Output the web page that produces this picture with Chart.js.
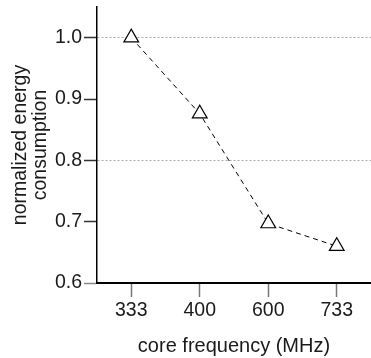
<!DOCTYPE html>
<html lang="en">
<head>
    <meta charset="UTF-8">
    <title>Energy vs core frequency</title>
    <script src="https://cdn.jsdelivr.net/npm/chart.js"></script>
    <style>
        html, body { margin: 0; padding: 0; background: #fff; overflow: hidden; }
        #wrap { width: 371px; height: 358px; }
    </style>
</head>
<body>
<div id="wrap"><canvas id="energyChart"></canvas></div>

<script>
    // data
    const frequencies = ['333', '400', '600', '733'];
    const energy = [1.0, 0.876, 0.697, 0.660];
    const yTicks = [0.6, 0.7, 0.8, 0.9, 1.0];
    const gridAt = [0.8, 1.0];

    const textColor = '#1a1a1a';
    const fontFamily = '"Liberation Sans", Arial, sans-serif';

    const ctx = document.getElementById('energyChart').getContext('2d');
    const energyChart = new Chart(ctx, {
        type: 'line',
        data: {
            labels: frequencies,
            datasets: [{
                data: energy,
                borderColor: '#000',
                borderWidth: 1,
                borderDash: [5, 4],
                fill: false,
                tension: 0,
                clip: false,
                pointStyle: 'triangle',
                pointRadius: 8.5,
                pointBorderWidth: 1.2,
                pointBackgroundColor: '#fff',
                pointBorderColor: '#000'
            }]
        },
        options: {
            responsive: true,
            maintainAspectRatio: false,
            animation: false,
            // no automatic room for the markers, the axes sit where the figure has them
            layout: { autoPadding: false, padding: { left: 0, right: -2, top: 7, bottom: 0 } },
            plugins: { legend: { display: false }, tooltip: { enabled: false } },
            scales: {
                x: {
                    offset: true,
                    grid: { display: true, drawOnChartArea: false, tickLength: 14, tickColor: '#777', tickWidth: 1.5 },
                    border: { color: '#000', width: 2 },
                    ticks: { color: textColor, padding: 2, font: { family: fontFamily, size: 19.5 } },
                    title: { display: true, text: 'core frequency (MHz)', color: textColor,
                             padding: { top: 0, bottom: 0 }, font: { family: fontFamily, size: 20, lineHeight: 1.2 } },
                    afterFit: scale => {
                        scale.height = 75;
                        scale.paddingLeft = 0;
                        scale.paddingRight = 0;
                    }
                },
                y: {
                    min: 0.6,
                    max: 1.05,
                    afterBuildTicks: axis => { axis.ticks = yTicks.map(v => ({ value: v })); },
                    grid: {
                        color: c => gridAt.some(v => Math.abs(c.tick.value - v) < 1e-6) ? '#aaa' : 'rgba(0,0,0,0)',
                        lineWidth: 1,
                        tickLength: 13,
                        tickColor: c => c.tick.value === 0.6 ? '#888' : '#333',
                        tickWidth: 1.5
                    },
                    border: { color: '#000', width: 1.5, dash: [2, 2] },
                    ticks: { color: textColor, padding: 2, font: { family: fontFamily, size: 19.5 },
                             callback: v => v.toFixed(1) },
                    title: { display: true, text: ['normalized energy', 'consumption'], color: textColor,
                             padding: { top: 11, bottom: 0 }, font: { family: fontFamily, size: 19.5, lineHeight: 1.0 } },
                    afterFit: scale => {
                        scale.width = 97;
                        scale.paddingTop = 0;
                        scale.paddingBottom = 0;
                    }
                }
            }
        }
    });
</script>
</body>
</html>
